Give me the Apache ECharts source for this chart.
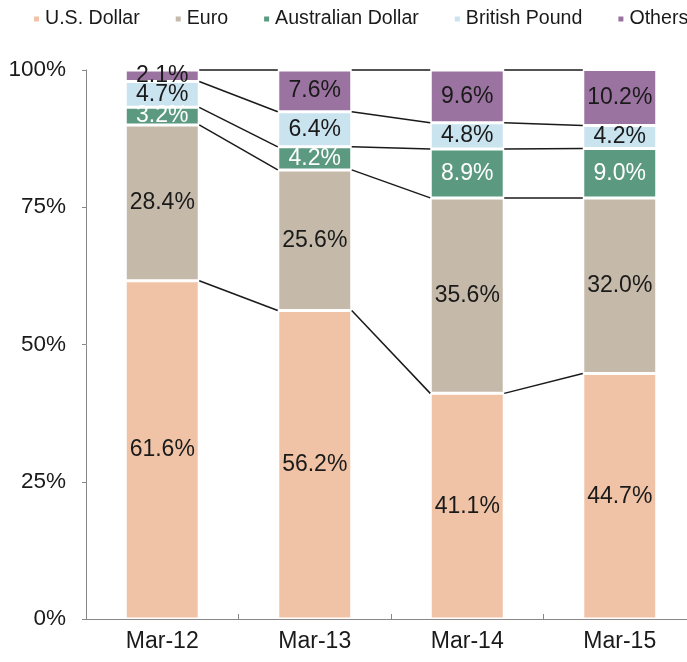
<!DOCTYPE html>
<html>
<head>
<meta charset="utf-8">
<script src="https://cdn.jsdelivr.net/npm/echarts@6/dist/echarts.min.js"></script>
<style>
  html, body { margin: 0; padding: 0; background: #fff; }
  #main { width: 687px; height: 662px; }
</style>
</head>
<body>
<div id="main"></div>
<script>
// categories and series values (percent share)
var categories = ['Mar-12', 'Mar-13', 'Mar-14', 'Mar-15'];
var usDollar = [61.6, 56.2, 41.1, 44.7];
var euro = [28.4, 25.6, 35.6, 32.0];
var ausDollar = [3.2, 4.2, 8.9, 9.0];
var britishPound = [4.7, 6.4, 4.8, 4.2];
var others = [2.1, 7.6, 9.6, 10.2];
var yTicks = [0, 25, 50, 75, 100];

var seriesNames = ['U.S. Dollar', 'Euro', 'Australian Dollar', 'British Pound', 'Others'];
var seriesData = [usDollar, euro, ausDollar, britishPound, others];
var colors = ['#F0C3A7', '#C5BAAA', '#5B9A81', '#C9E3EF', '#9B73A1'];
var labelColors = ['#1a1a1a', '#1a1a1a', '#ffffff', '#1a1a1a', '#1a1a1a'];
var barRatio = 0.485;
var fontFam = 'Liberation Sans, Arial, sans-serif';

var chart = echarts.init(document.getElementById('main'));

// cumulative tops of each segment, per category
var cum = categories.map(function (c, i) {
  var s = 0, arr = [];
  seriesData.forEach(function (d) { s += d[i]; arr.push(s); });
  return arr;
});

// connector lines: [category index, boundary value here, boundary value next]
var connectors = [];
for (var i = 0; i < categories.length - 1; i++) {
  for (var k = 0; k < seriesData.length; k++) {
    var a = k === seriesData.length - 1 ? 100 : cum[i][k];
    var b = k === seriesData.length - 1 ? 100 : cum[i + 1][k];
    connectors.push([i, a, b]);
  }
}

var series = seriesNames.map(function (name, idx) {
  return {
    name: name,
    type: 'bar',
    stack: 'total',
    barWidth: (barRatio * 100) + '%',
    data: seriesData[idx],
    itemStyle: { color: colors[idx], borderColor: '#fff', borderWidth: 1.5 },
    label: {
      show: true,
      position: 'inside',
      formatter: function (p) { return p.value.toFixed(1) + '%'; },
      color: labelColors[idx],
      fontSize: 23,
      fontFamily: fontFam
    }
  };
});

series.push({
  type: 'custom',
  name: 'connectors',
  silent: true,
  z: 5,
  data: connectors,
  renderItem: function (params, api) {
    var ci = api.value(0);
    var p0 = api.coord([ci, api.value(1)]);
    var p1 = api.coord([ci + 1, api.value(2)]);
    var half = api.size([1, 0])[0] * barRatio / 2;
    return {
      type: 'line',
      shape: { x1: p0[0] + half, y1: p0[1], x2: p1[0] - half, y2: p1[1] },
      style: { stroke: '#1a1a1a', lineWidth: 1.5 }
    };
  }
});

var option = {
  animation: false,
  color: colors,
  legend: {
    data: seriesNames,
    top: 9,
    left: 32,
    width: 700,
    padding: 0,
    itemWidth: 7,
    itemHeight: 7,
    itemGap: 34,
    icon: 'rect',
    textStyle: { fontSize: 19.6, color: '#1a1a1a', fontFamily: fontFam }
  },
  grid: { left: 86, right: -9, top: 70, bottom: 43, outerBoundsMode: 'none', containLabel: false },
  xAxis: {
    type: 'category',
    data: categories,
    axisLine: { lineStyle: { color: '#888' } },
    axisTick: { show: true, inside: true, length: 5, lineStyle: { color: '#888' } },
    axisLabel: { fontSize: 23, color: '#1a1a1a', margin: 11, fontFamily: fontFam }
  },
  yAxis: {
    type: 'value',
    min: yTicks[0],
    max: yTicks[yTicks.length - 1],
    interval: 25,
    splitLine: { show: false },
    axisLine: { show: true, lineStyle: { color: '#888' } },
    axisTick: { show: true, length: 4, lineStyle: { color: '#888' } },
    axisLabel: { fontSize: 22.5, color: '#1a1a1a', margin: 20, formatter: '{value}%', fontFamily: fontFam }
  },
  series: series
};

chart.setOption(option);
</script>
</body>
</html>
